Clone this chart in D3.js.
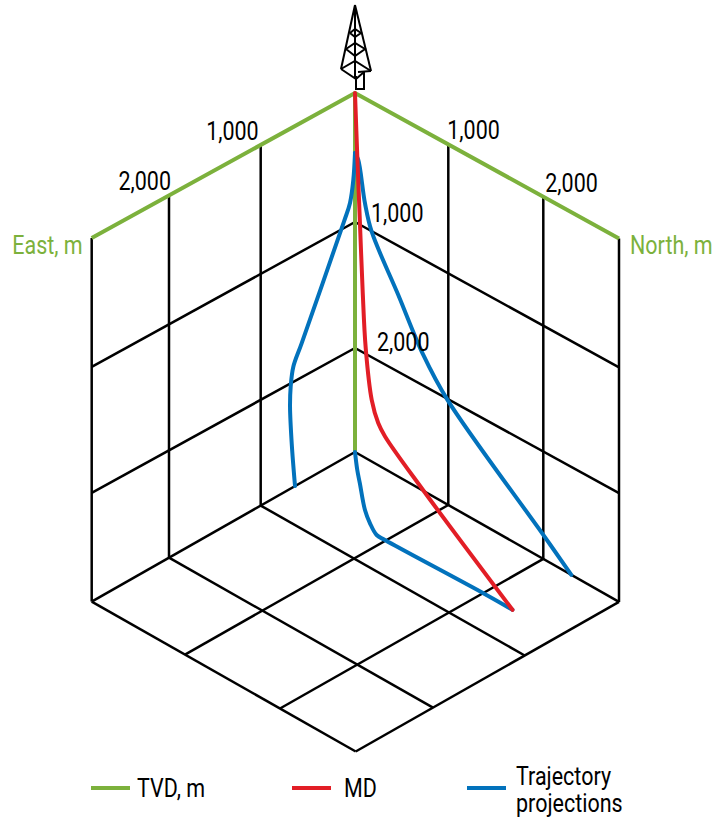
<!DOCTYPE html>
<html>
<head>
<meta charset="utf-8">
<script src="https://d3js.org/d3.v7.min.js"></script>
<style>
html, body { margin: 0; padding: 0; background: #fff; }
text { font-family: Roboto, "Liberation Sans", sans-serif; font-size: 25px; }
</style>
</head>
<body>
<script>
// curves, all in metres
// MD, the well itself
const mdTvd = [0, 470, 900, 1250, 1550, 1800, 1950, 2030, 2260, 2825];
const mdNorth = [0, 43, 140, 395, 610, 840, 917, 985, 1407, 2310];
const mdEast = [0, 18, 87, 310, 490, 654, 661, 656, 680, 638];

// projection on the East wall
const eastWallTvd = [465, 667, 831, 950, 1728, 1879, 2025, 2181, 2477, 2825];
const eastWallEast = [0, 18, 53, 117, 565, 654, 682, 689, 671, 636];

// projection on the North wall
const northWallTvd = [465, 505, 812, 1004, 1390, 1757, 2008, 2640, 2825];
const northWallNorth = [0, 35, 107, 179, 464, 732, 991, 2000, 2296];

// projection on the floor
const floorNorth = [0, 182, 322, 600, 753, 899, 991, 2002, 2310];
const floorEast = [0, 156, 267, 488, 586, 660, 663, 638, 638];

const axisMax = 2800;
const depthMax = 2825;
const gridTicks = [1000, 2000];
const tickLabels = ['1,000', '2,000'];
const legendNames = ['TVD, m', 'MD', ['Trajectory', 'projections']];

const WIDTH = 725;
const HEIGHT = 820;
const GREEN = '#7cb13c';
const RED = '#e21e26';
const BLUE = '#0272bc';
const APEX_X = 355;
const GRID_WIDTH = 2.5;
const NARROW = 0.86; // no condensed face installed, so squeeze the text

// the drawing is a hand made isometric box, so the scales are slightly uneven
const xNorth = d3.scaleLinear().domain([0, 1000, 2000, axisMax]).range([0, 93.3, 188.3, 264]);
const xEast = d3.scaleLinear().domain([0, 1000, 2000, axisMax]).range([0, 94.3, 186, 263.3]);
const yDepth = d3.scaleLinear().domain([0, 1000, 2000, depthMax]).range([93, 222, 348, 452]);
const slope = d3.scaleLinear().domain([0, 2000, depthMax]).range([0.551, 0.55, 0.568]);

function project(n, e, d) {
    const hn = xNorth(n);
    const he = xEast(e);
    return [APEX_X + hn - he, yDepth(d) + (hn + he) * slope(d)];
}

const svg = d3.select('body').append('svg')
    .attr('width', WIDTH)
    .attr('height', HEIGHT)
    .attr('viewBox', [0, 0, WIDTH, HEIGHT])
    .attr('xmlns', 'http://www.w3.org/2000/svg')
    .style('display', 'block');

const straight = d3.line();
const smooth = d3.line().curve(d3.curveCatmullRom.alpha(0.5));

function seg(g, pts, color, width) {
    g.append('path')
        .attr('d', straight(pts))
        .attr('fill', 'none')
        .attr('stroke', color)
        .attr('stroke-width', width);
}

function label(g, x, y, str, anchor) {
    g.append('text')
        .attr('transform', `translate(${x},${y}) scale(${NARROW},1)`)
        .attr('text-anchor', anchor || 'start')
        .text(str);
}

drawGrid();
drawAxes();
drawWell();
drawLabels();
drawDerrick();
drawLegend();

function drawGrid() {
    const g = svg.append('g');
    const levels = [...gridTicks, depthMax];
    const stops = [...gridTicks, axisMax];

    // wall verticals
    stops.forEach(v => {
        seg(g, [project(0, v, 0), project(0, v, depthMax)], '#000', GRID_WIDTH);
        seg(g, [project(v, 0, 0), project(v, 0, depthMax)], '#000', GRID_WIDTH);
    });
    // wall horizontals, the last ones are the back of the floor
    levels.forEach(d => {
        seg(g, [project(0, 0, d), project(0, axisMax, d)], '#000', GRID_WIDTH);
        seg(g, [project(0, 0, d), project(axisMax, 0, d)], '#000', GRID_WIDTH);
    });
    // floor
    stops.forEach(v => {
        seg(g, [project(0, v, depthMax), project(axisMax, v, depthMax)], '#000', GRID_WIDTH);
        seg(g, [project(v, 0, depthMax), project(v, axisMax, depthMax)], '#000', GRID_WIDTH);
    });
}

function drawAxes() {
    const g = svg.append('g').attr('stroke-linejoin', 'miter');
    seg(g, [project(0, axisMax, 0), project(0, 0, 0), project(axisMax, 0, 0)], GREEN, 4);
    seg(g, [project(0, 0, 0), project(0, 0, depthMax)], GREEN, 4);
}

function drawWell() {
    const g = svg.append('g')
        .attr('fill', 'none')
        .attr('stroke-width', 4)
        .attr('stroke-linecap', 'round');

    const projections = [
        eastWallTvd.map((d, i) => project(0, eastWallEast[i], d)),
        northWallTvd.map((d, i) => project(northWallNorth[i], 0, d)),
        floorNorth.map((n, i) => project(n, floorEast[i], depthMax)),
    ];
    g.selectAll('path.projection')
        .data(projections)
        .join('path')
        .attr('class', 'projection')
        .attr('stroke', BLUE)
        .attr('d', smooth);

    g.append('path')
        .attr('stroke', RED)
        .attr('d', smooth(mdTvd.map((d, i) => project(mdNorth[i], mdEast[i], d))));
}

function drawLabels() {
    const g = svg.append('g').attr('fill', '#000');
    const eastNudge = [-2, 2];
    const northNudge = [-1, 2];
    gridTicks.forEach((t, i) => {
        const east = project(0, t, 0);
        const north = project(t, 0, 0);
        label(g, east[0] + eastNudge[i], east[1] - 5, tickLabels[i], 'end');
        label(g, north[0] + northNudge[i], north[1] - 5, tickLabels[i]);
    });
    label(g, 371, yDepth(1000), tickLabels[0]);
    label(g, 377, yDepth(2000) + 3, tickLabels[1]);

    const ends = svg.append('g').attr('fill', GREEN);
    label(ends, project(0, axisMax, 0)[0] - 9, 254, 'East, m', 'end');
    label(ends, project(axisMax, 0, 0)[0] + 11, 254, 'North, m');
}

function drawDerrick() {
    const tower = [
        [[355, 5], [341, 69]], [[355, 5], [371, 71]], [[355, 5], [355, 79]],
        [[350, 33], [355, 29], [361, 33], [355, 37], [350, 33]],
        [[346, 49], [355, 43], [365, 49], [355, 56], [346, 49]],
        [[341, 69], [355, 61], [371, 71]],
        [[341, 69], [356, 79], [364, 72]],
        [[358, 72], [371, 71]],
        [[356, 76], [356, 89], [364, 89], [364, 72]],
    ];
    const g = svg.append('g');
    tower.forEach(pts => seg(g, pts, '#000', 2));
}

function drawLegend() {
    const colors = [GREEN, RED, BLUE];
    const lineX = [91, 292, 467];
    const textX = [137, 344, 516];
    const g = svg.append('g');
    legendNames.forEach((name, i) => {
        seg(g, [[lineX[i], 788], [lineX[i] + 39, 788]], colors[i], 4);
        const lines = [].concat(name);
        lines.forEach((line, j) => {
            label(g, textX[i], lines.length > 1 ? 785 + j * 27 : 797, line);
        });
    });
}
</script>
</body>
</html>
